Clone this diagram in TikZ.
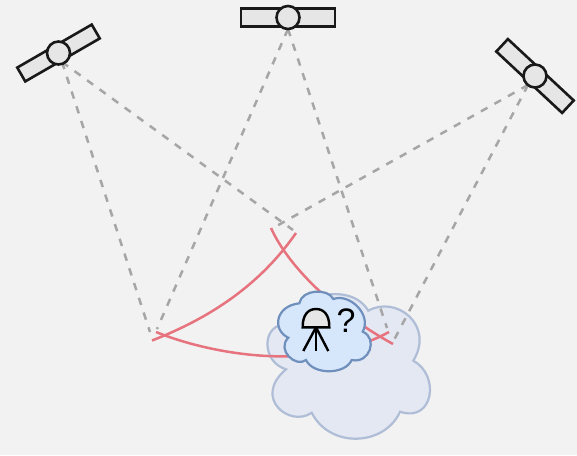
\documentclass[tikz,border=0pt]{standalone}
\usepackage{fontspec}
\setmainfont{Liberation Sans}
\definecolor{bgc}{HTML}{F2F2F2}
\definecolor{panelc}{HTML}{E6E6E6}
\definecolor{rayc}{HTML}{A6A6A6}
\definecolor{arcc}{HTML}{E7737E}
\definecolor{bigf}{HTML}{E3E8F3}
\definecolor{bigd}{HTML}{AFBDD6}
\definecolor{smallf}{HTML}{D6E6FB}
\definecolor{smalld}{HTML}{6F8FBC}
\tikzset{
 ray/.style={draw=rayc,line width=2.5pt,dash pattern=on 7.5pt off 8pt},
 arcline/.style={draw=arcc,line width=2.5pt},
 panel/.style={draw=black!90,fill=panelc,line width=2.6pt},
 body/.style={draw=black!90,fill=panelc,line width=2.6pt},
 bigcloud/.style={draw=bigd,fill=bigf,line width=2.2pt},
 smallcloud/.style={draw=smalld,fill=smallf,line width=2.2pt},
 ant/.style={draw=black,line width=2.4pt},
}
\begin{document}
\begin{tikzpicture}[x=1pt,y=-1pt]
\path[use as bounding box,fill=bgc] (0,0) rectangle (577,455);
% big cloud
\path[bigcloud] (286,369.3)
 .. controls (262,362) and (262,328) .. (281.7,325)
 .. controls (292,296) and (350,280) .. (368.3,310.7)
 .. controls (396,295) and (435,325) .. (413.3,360.7)
 .. controls (440,375) and (434,423) .. (400,411.7)
 .. controls (385,446) and (330,449) .. (311.7,412.7)
 .. controls (290,428) and (252,398) .. (286,369.3) -- cycle;
% named points
\coordinate (s1) at (62,62);
\coordinate (s2) at (288,29);
\coordinate (s3) at (528,85);
\coordinate (a) at (150,332);
\coordinate (b) at (157,329);
\coordinate (c) at (293,230);
\coordinate (d) at (273,228);
\coordinate (e) at (387,328);
\coordinate (f) at (394,340);
\draw[ray] (s1) -- (a);
\draw[ray] (s1) -- (c);
\draw[ray] (s2) -- (b);
\draw[ray] (s2) -- (e);
\draw[ray] (s3) -- (d);
\draw[ray] (s3) -- (f);
% arcs
\coordinate (a1s) at (152,340.5);
\coordinate (a1e) at (296,233);
\coordinate (a2s) at (156,332);
\coordinate (a2e) at (389,332);
\coordinate (a3s) at (271,228);
\coordinate (a3e) at (393,344);
\draw[arcline] (a1s) .. controls (210,318) and (260,285) .. (a1e);
\draw[arcline] (a2s) .. controls (205,352) and (310,375) .. (a2e);
\draw[arcline] (a3s) .. controls (290,270) and (340,315) .. (a3e);
% small cloud
\path[smallcloud] (299.3,303.3)
 .. controls (302,289) and (328,288) .. (333.3,299)
 .. controls (350,293) and (372,315) .. (362.7,331.7)
 .. controls (378,338) and (370,364) .. (351.7,360)
 .. controls (345,375) and (313,375) .. (306,360)
 .. controls (296,368) and (276,350) .. (288.3,337.7)
 .. controls (272,330) and (275,306) .. (299.3,303.3) -- cycle;
% receiver
\coordinate (dl) at (302.7,327.3);
\coordinate (dr) at (329.3,327.3);
\coordinate (dt) at (316,327.3);
\coordinate (l1) at (303.3,351);
\coordinate (l2) at (316,351);
\coordinate (l3) at (328.3,351);
\draw[ant,fill=panelc] (dl) -- (dr) .. controls (329.5,315) and (324,309) .. (316,309) .. controls (308,309) and (302.5,315) .. (dl) -- cycle;
\draw[ant] (dt) -- (l1);
\draw[ant] (dt) -- (l2);
\draw[ant] (dt) -- (l3);
\node[inner sep=0pt,font=\fontsize{34}{34}\selectfont,text=black] (qm) at (346,320.5) {?};
% satellites
\begin{scope}[shift={(58.5,53)},rotate=30]
\path[panel] (-43,-8) rectangle (43,8);
\node[body,circle,minimum size=23pt,inner sep=0pt] (sat1) at (0,0) {};
\end{scope}
\begin{scope}[shift={(288,17.5)}]
\path[panel] (-47,-9) rectangle (47,9);
\node[body,circle,minimum size=23pt,inner sep=0pt] (sat2) at (0,0) {};
\end{scope}
\begin{scope}[shift={(535,76)},rotate=-43]
\path[panel] (-45,-8.5) rectangle (45,8.5);
\node[body,circle,minimum size=23pt,inner sep=0pt] (sat3) at (0,0) {};
\end{scope}
\end{tikzpicture}
\end{document}
